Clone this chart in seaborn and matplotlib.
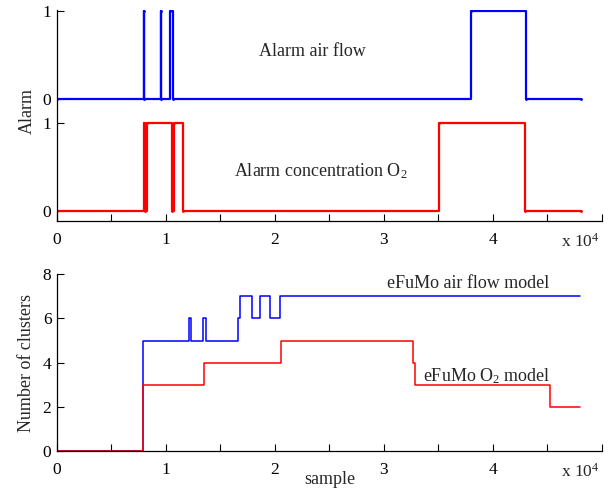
import numpy as np
import pandas as pd
import seaborn as sns
import matplotlib.pyplot as plt

# alarm signals (x in samples, step values)
alarm_air_x = [0, 7950, 7970, 9510, 9530, 10370, 10610, 37950, 43000, 48100]
alarm_air_y = [0, 1, 0, 1, 0, 1, 0, 1, 0, 0]
alarm_o2_x = [0, 7950, 8050, 8260, 10550, 10700, 11530, 35050, 42940, 48100]
alarm_o2_y = [0, 1, 0, 1, 0, 1, 0, 1, 0, 0]

# number of clusters
clu_air_x = [0, 7920, 12150, 12330, 13400, 13660, 16630, 16770, 17890, 18670, 19570, 20470, 48000]
clu_air_y = [0, 5, 6, 5, 6, 5, 6, 7, 6, 7, 6, 7, 7]
clu_o2_x = [0, 7920, 13480, 20540, 32690, 32830, 45230, 48000]
clu_o2_y = [0, 3, 4, 5, 4, 3, 2, 2]

air_offset = 1.27  # top trace drawn above the O2 trace on the same axes

sns.set_style("ticks")
plt.rcParams['font.family'] = ['Liberation Serif', 'DejaVu Serif']
plt.rcParams['mathtext.default'] = 'regular'
plt.rcParams['xtick.direction'] = 'in'
plt.rcParams['ytick.direction'] = 'in'

fig = plt.figure(figsize=(6.14, 4.95), dpi=100)
ax1 = fig.add_axes([0.0928, 0.5535, 0.8874, 0.4263])
ax2 = fig.add_axes([0.0928, 0.0889, 0.8874, 0.357])

blue = "#0000ff"
red = "#ff0000"

# top panel
sns.lineplot(x=alarm_air_x, y=np.array(alarm_air_y) + air_offset, ax=ax1, color=blue,
             drawstyle='steps-post', estimator=None, sort=False, lw=1.6,
             marker='.', ms=2.5, mec=blue)
sns.lineplot(x=alarm_o2_x, y=alarm_o2_y, ax=ax1, color=red,
             drawstyle='steps-post', estimator=None, sort=False, lw=1.6,
             marker='.', ms=2.5, mec=red)
ax1.set_ylim(-0.115, 2.285)
ax1.set_yticks([0, 1, air_offset, 1 + air_offset])
ax1.set_yticklabels(["0", "1", "0", "1"])
ax1.text(18500, 1.81, "Alarm air flow", fontsize=13, va='center', ha='left')
ax1.text(16200, 0.45, "Alarm concentration O$_2$", fontsize=13, va='center', ha='left')
ax1.set_ylabel("Alarm", fontsize=13)
ax1.yaxis.set_label_coords(-0.038, 0.52)

# bottom panel
sns.lineplot(x=clu_air_x, y=clu_air_y, ax=ax2, color=blue,
             drawstyle='steps-post', estimator=None, sort=False, lw=1.1)
sns.lineplot(x=clu_o2_x, y=clu_o2_y, ax=ax2, color=red,
             drawstyle='steps-post', estimator=None, sort=False, lw=1.1)
ax2.set_ylim(0, 8)
ax2.set_yticks([0, 2, 4, 6, 8])
ax2.text(30300, 7.6, "eFuMo air flow model", fontsize=13, va='center', ha='left')
ax2.text(33600, 3.4, "eFuMo O$_2$ model", fontsize=13, va='center', ha='left')
ax2.set_ylabel("Number of clusters", fontsize=13)
ax2.yaxis.set_label_coords(-0.04, 0.5)
ax2.set_xlabel("sample", fontsize=13, labelpad=-5)

xt = np.arange(0, 50001, 5000)
xl = [str(int(v / 10000)) if v % 10000 == 0 and v < 50000 else "" for v in xt]
for ax in (ax1, ax2):
    ax.set_xlim(0, 50000)
    ax.set_xticks(xt)
    ax.set_xticklabels(xl)
    ax.tick_params(labelsize=12.5, length=5, width=0.8, colors='black', pad=8)
    ax.tick_params(axis='y', pad=4)
    for s in ("top", "right"):
        ax.spines[s].set_visible(False)
    for s in ("left", "bottom"):
        ax.spines[s].set_linewidth(0.9)
        ax.spines[s].set_color('black')
    ax.text(0.925, -0.1 if ax is ax1 else -0.12, "x 10$^4$", transform=ax.transAxes,
            fontsize=12.5, va='center', ha='left')
    ax.set_facecolor('white')

fig.savefig("out.png", dpi=100, facecolor='white')
